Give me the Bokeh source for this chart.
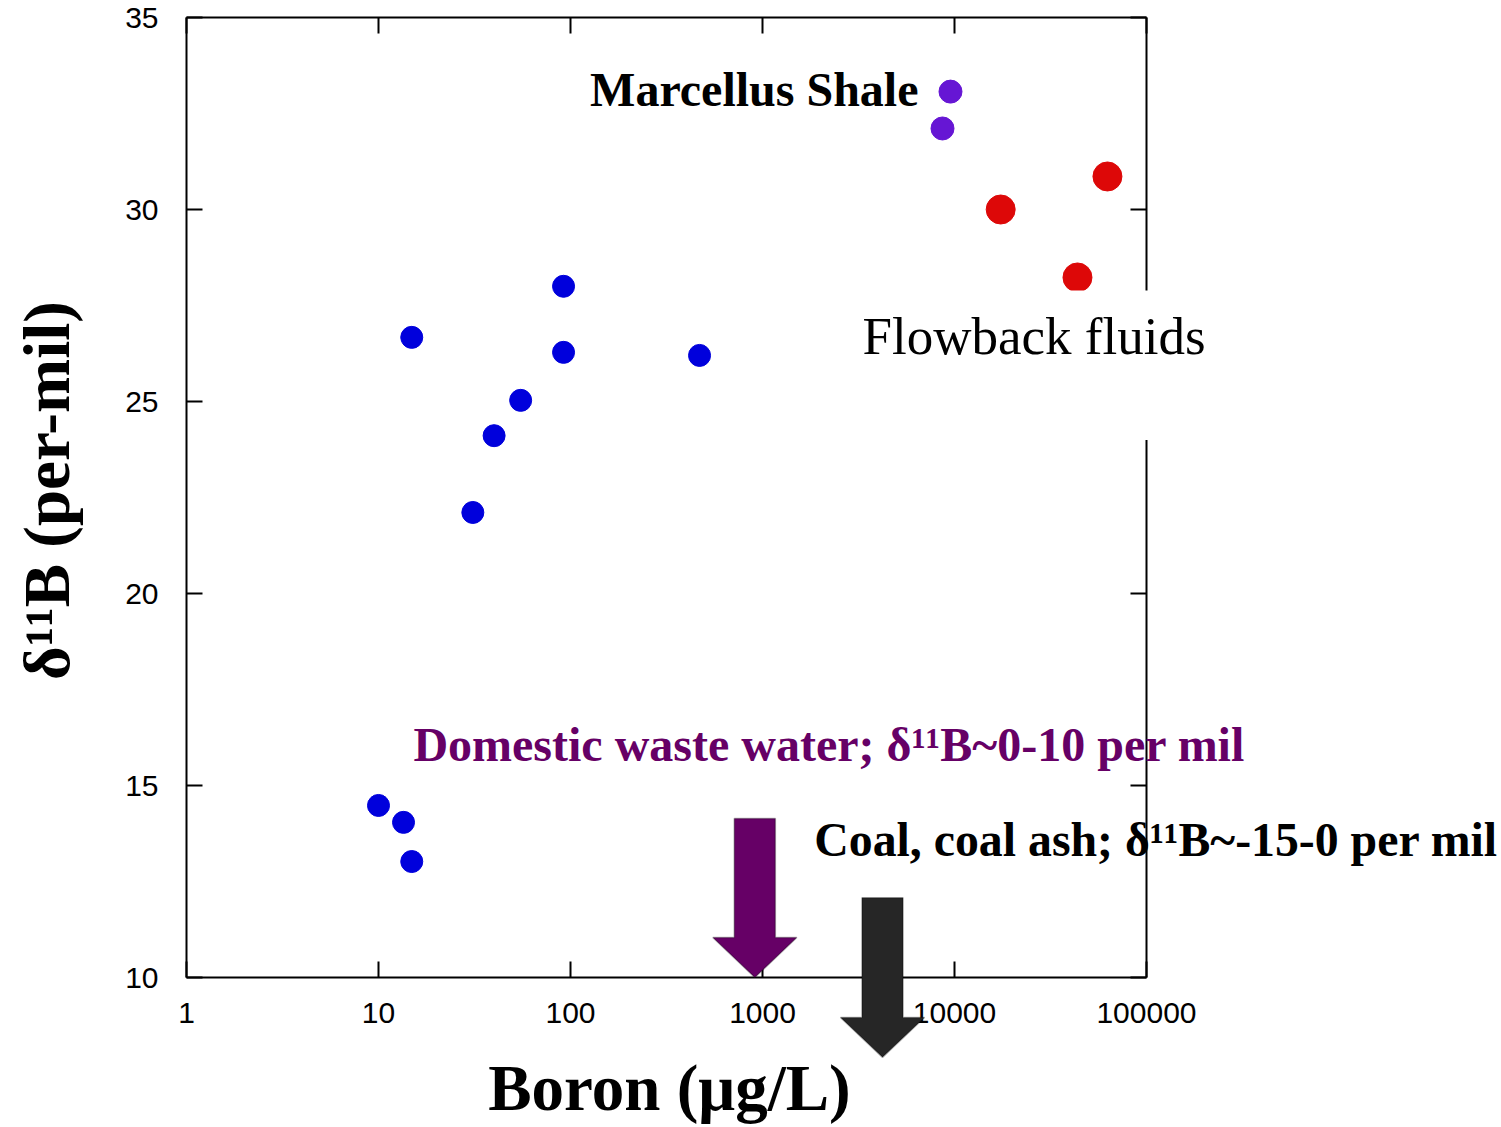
import math
from bokeh.plotting import figure
from bokeh.models import (LogAxis, LinearAxis, FixedTicker, Label,
                          BoxAnnotation, PolyAnnotation, Range1d)
from bokeh.embed import file_html
from bokeh.resources import INLINE

# ---------------- data ----------------
spring_boron = [10, 13.5, 14.9, 14.9, 31, 40, 55, 92, 92, 470]
spring_d11b = [14.48, 14.04, 13.02, 26.67, 22.11, 24.11, 25.03, 28.0, 26.28, 26.2]

shale_boron = [9530, 8660]
shale_d11b = [33.07, 32.11]

flowback_boron = [17400, 62600, 43700]
flowback_d11b = [30.0, 30.86, 28.23]

x_ticks = [1, 10, 100, 1000, 10000, 100000]
x_tick_labels = ["1", "10", "100", "1000", "10000", "100000"]
y_ticks = [10, 15, 20, 25, 30, 35]
y_tick_labels = ["10", "15", "20", "25", "30", "35"]

X_MIN, X_MAX = 1, 100000
Y_MIN, Y_MAX = 10, 35

# arrows: (tip boron, tip d11B, head-base d11B, top d11B)
domestic_arrow = (912, 10.0, 11.04, 14.14)
coal_arrow = (4217, 7.92, 8.96, 12.08)

SERIF = "Liberation Serif"
SANS = "Liberation Sans"

# The frame fills the whole canvas; the axes box sits inside it at fixed
# locations, so that labels and annotations outside the box are not clipped.
W, H = 1501, 1127
BOX_LEFT, BOX_TOP = 186, 17
DECADE_PX = 192
UNIT_PX = 38.4
x_lo = 10 ** (-BOX_LEFT / DECADE_PX)
x_hi = 10 ** ((W - BOX_LEFT) / DECADE_PX)
y_hi = Y_MAX + BOX_TOP / UNIT_PX
y_lo = Y_MAX - (H - BOX_TOP) / UNIT_PX

p = figure(frame_width=W, frame_height=H, x_axis_type="log",
           x_range=Range1d(x_lo, x_hi), y_range=Range1d(y_lo, y_hi),
           output_backend="svg", toolbar_location=None,
           min_border_left=0, min_border_right=0,
           min_border_top=0, min_border_bottom=0,
           outline_line_color=None, background_fill_color="white",
           border_fill_color="white")
p.grid.visible = False

p.add_layout(LogAxis(), "above")
p.add_layout(LinearAxis(), "right")


def style_axis(ax, ticks, labels, show, bounds, loc):
    ax.fixed_location = loc
    ax.ticker = FixedTicker(ticks=ticks)
    ax.bounds = bounds
    ax.axis_line_color = "black"
    ax.axis_line_width = 2
    ax.major_tick_line_color = "black"
    ax.major_tick_line_width = 2
    ax.major_tick_in = 16
    ax.major_tick_out = 0
    ax.minor_tick_line_color = None
    ax.major_label_overrides = {t: l for t, l in zip(ticks, labels)}
    if show:
        ax.major_label_text_font = SANS
        ax.major_label_text_font_size = "30px"
        ax.major_label_text_color = "black"
    else:
        ax.major_label_text_font_size = "1px"
        ax.major_label_text_alpha = 0
        ax.major_label_standoff = 0


xb = p.below[0]
yl = p.left[0]
style_axis(xb, x_ticks, x_tick_labels, True, (X_MIN, X_MAX), Y_MIN)
style_axis(p.above[0], x_ticks, x_tick_labels, False, (X_MIN, X_MAX), Y_MAX)
style_axis(yl, y_ticks, y_tick_labels, True, (Y_MIN, Y_MAX), X_MIN)
style_axis(p.right[0], y_ticks, y_tick_labels, False, (Y_MIN, Y_MAX), X_MAX)
xb.major_label_standoff = 25
yl.major_label_standoff = 28

# axis titles, centred on the axes box (not on the wider frame)
p.add_layout(Label(x=327.8, y=7.11, text="Boron (μg/L)", text_align="center",
                   text_baseline="alphabetic", text_font=SERIF,
                   text_font_style="bold", text_font_size="65px",
                   text_color="black"))
p.add_layout(Label(x=0.1888, y=22.68, text="δ¹¹B (per-mil)", text_align="center",
                   text_baseline="middle", angle=90, angle_units="deg",
                   text_font=SERIF, text_font_style="bold",
                   text_font_size="65px", text_color="black"))

# ---------------- points ----------------
p.scatter(spring_boron, spring_d11b, size=22, color="#0000dc")
p.scatter(shale_boron, shale_d11b, size=23, color="#6616d4")
p.scatter(flowback_boron, flowback_d11b, size=29, color="#dd0808")

# ---------------- arrows ----------------
SHAFT = 0.107  # half-width in decades
HEAD = 0.219


def arrow(spec, fill):
    xtip, ytip, yhead, ytop = spec
    c = math.log10(xtip)
    xs = [10 ** (c - SHAFT), 10 ** (c + SHAFT), 10 ** (c + SHAFT),
          10 ** (c + HEAD), xtip, 10 ** (c - HEAD), 10 ** (c - SHAFT)]
    ys = [ytop, ytop, yhead, yhead, ytip, yhead, yhead]
    return PolyAnnotation(xs=xs, ys=ys, fill_color=fill, fill_alpha=1,
                          line_color="black", line_width=1.5, level="overlay")


p.add_layout(arrow(domestic_arrow, "#660066"))
p.add_layout(arrow(coal_arrow, "#262626"))

# ---------------- white box behind "Flowback fluids" ----------------
p.add_layout(BoxAnnotation(left=2873, right=273800, bottom=24.0, top=27.89,
                           fill_color="white", fill_alpha=1, line_color=None,
                           level="overlay"))

# ---------------- text labels ----------------
p.add_layout(Label(x=6494, y=33.13, text="Marcellus Shale", text_align="right",
                   text_baseline="alphabetic", text_font=SERIF,
                   text_font_style="bold", text_font_size="48px",
                   text_color="black", level="overlay"))
p.add_layout(Label(x=3319, y=26.70, text="Flowback fluids", text_align="left",
                   text_baseline="alphabetic", text_font=SERIF,
                   text_font_size="53px", text_color="black", level="overlay"))
p.add_layout(Label(x=15.2, y=16.07, text="Domestic waste water; δ¹¹B~0-10 per mil",
                   text_align="left", text_baseline="alphabetic", text_font=SERIF,
                   text_font_style="bold", text_font_size="48px",
                   text_color="#660066", level="overlay"))
p.add_layout(Label(x=1860, y=13.60, text="Coal, coal ash; δ¹¹B~-15-0 per mil",
                   text_align="left", text_baseline="alphabetic", text_font=SERIF,
                   text_font_style="bold", text_font_size="47.8px",
                   text_color="black", level="overlay"))

open("out.html", "w").write(file_html(p, INLINE))
